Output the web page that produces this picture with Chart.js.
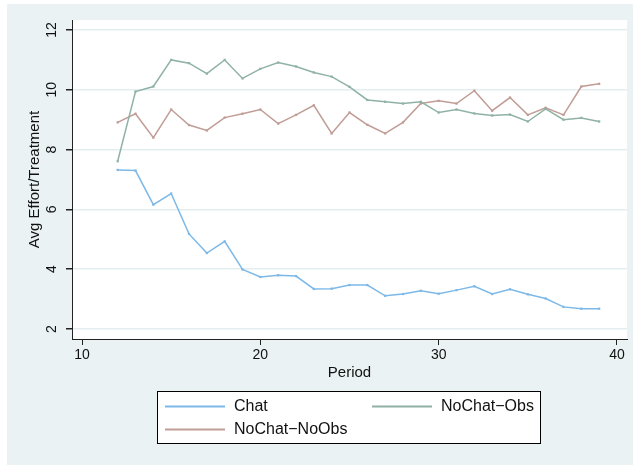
<!DOCTYPE html>
<html>
<head>
<meta charset="utf-8">
<script src="https://cdn.jsdelivr.net/npm/chart.js@4.4.0/dist/chart.umd.min.js"></script>
<style>
  html, body { margin: 0; padding: 0; background: #fff; }
  #wrap { width: 633px; height: 465px; }
</style>
</head>
<body>
<div id="wrap"><canvas id="grafico" width="633" height="465"></canvas></div>
<script>
// datos
const periodos = [12, 13, 14, 15, 16, 17, 18, 19, 20, 21, 22, 23, 24, 25,
                  26, 27, 28, 29, 30, 31, 32, 33, 34, 35, 36, 37, 38, 39];
const chat = [7.32, 7.30, 6.16, 6.53, 5.18, 4.54, 4.93, 3.99, 3.74, 3.80, 3.77, 3.34, 3.35, 3.47,
              3.47, 3.11, 3.17, 3.28, 3.18, 3.30, 3.43, 3.17, 3.33, 3.16, 3.02, 2.74, 2.68, 2.68];
const noChatObs = [7.61, 9.94, 10.11, 11.00, 10.89, 10.54, 11.00, 10.38, 10.70, 10.91, 10.78, 10.58, 10.44, 10.10,
                   9.66, 9.60, 9.54, 9.60, 9.24, 9.34, 9.21, 9.14, 9.17, 8.94, 9.36, 9.00, 9.06, 8.94];
const noChatNoObs = [8.91, 9.20, 8.40, 9.34, 8.82, 8.64, 9.07, 9.20, 9.34, 8.87, 9.16, 9.48, 8.54, 9.24,
                     8.83, 8.54, 8.91, 9.54, 9.63, 9.54, 9.97, 9.30, 9.74, 9.16, 9.40, 9.16, 10.11, 10.20];
const seriesNombres = ['Chat', 'NoChat\u2212Obs', 'NoChat\u2212NoObs'];
const ticksX = [10, 20, 30, 40];
const ticksY = [2, 4, 6, 8, 10, 12];

const FUENTE = '"Liberation Sans", Arial, sans-serif';
const colores = ['#7db9e8', '#8fb2a5', '#c09d96'];

function puntos(valores) {
    return periodos.map((p, i) => ({ x: p, y: valores[i] }));
}

// fondo gris-azulado y area blanca del grafico
const fondoPlugin = {
    id: 'fondo',
    beforeDraw(chart) {
        const ctx = chart.ctx;
        const a = chart.chartArea;
        ctx.save();
        ctx.fillStyle = '#ffffff';
        ctx.fillRect(0, 0, chart.width, chart.height);
        ctx.fillStyle = '#eaf2f3';
        ctx.fillRect(7, 4, chart.width - 7, chart.height - 4);
        ctx.fillStyle = '#ffffff';
        ctx.fillRect(a.left, a.top, a.right - a.left, a.bottom - a.top);
        ctx.restore();
    }
};

// leyenda en caja, dos columnas
const leyendaPlugin = {
    id: 'leyendaCaja',
    afterDraw(chart) {
        const ctx = chart.ctx;
        const caja = { x: 157.5, y: 391.5, w: 383, h: 52 };
        ctx.save();
        ctx.fillStyle = '#ffffff';
        ctx.fillRect(caja.x, caja.y, caja.w, caja.h);
        ctx.strokeStyle = '#000000';
        ctx.lineWidth = 1;
        ctx.strokeRect(caja.x, caja.y, caja.w, caja.h);
        ctx.font = '16px ' + FUENTE;
        ctx.textBaseline = 'middle';
        ctx.textAlign = 'left';
        const columnas = [165, 372];
        const filas = [406.5, 429.5];
        chart.data.datasets.forEach((ds, i) => {
            const cx = columnas[i % 2];
            const cy = filas[Math.floor(i / 2)];
            ctx.strokeStyle = ds.borderColor;
            ctx.lineWidth = 2;
            ctx.beginPath();
            ctx.moveTo(cx, cy);
            ctx.lineTo(cx + 60, cy);
            ctx.stroke();
            ctx.fillStyle = '#111111';
            ctx.fillText(ds.label, cx + 69, cy);
        });
        ctx.restore();
    }
};

const series = [chat, noChatObs, noChatNoObs];

const grafico = new Chart(document.getElementById('grafico').getContext('2d'), {
    type: 'line',
    data: {
        datasets: series.map((valores, i) => ({
            label: seriesNombres[i],
            data: puntos(valores),
            borderColor: colores[i],
            backgroundColor: colores[i],
            borderWidth: 1.5,
            pointStyle: 'rect',
            pointRadius: 1.6,
            pointBorderWidth: 0,
            tension: 0,
            fill: false
        }))
    },
    options: {
        responsive: false,
        animation: false,
        layout: { padding: { left: 0, top: 20, right: 6, bottom: 0 } },
        plugins: {
            legend: { display: false },
            tooltip: { enabled: false }
        },
        scales: {
            x: {
                type: 'linear',
                min: 9.439,
                max: 40.561,
                afterBuildTicks: scale => { scale.ticks = ticksX.map(v => ({ value: v })); },
                afterFit: scale => { scale.height = 126; },
                border: { display: true, color: '#222', width: 1 },
                grid: {
                    drawOnChartArea: false,
                    drawTicks: true,
                    tickLength: 6,
                    tickColor: '#222',
                    lineWidth: 1
                },
                ticks: {
                    color: '#111',
                    font: { family: FUENTE, size: 14 },
                    padding: 2,
                    maxRotation: 0,
                    autoSkip: false
                },
                title: {
                    display: true,
                    text: 'Period',
                    color: '#111',
                    font: { family: FUENTE, size: 15 },
                    padding: { top: 0, bottom: 83 }
                }
            },
            y: {
                type: 'linear',
                min: 1.666,
                max: 12.334,
                afterBuildTicks: scale => { scale.ticks = ticksY.map(v => ({ value: v })); },
                afterFit: scale => { scale.width = 72; },
                border: { display: true, color: '#222', width: 1 },
                grid: {
                    drawOnChartArea: true,
                    drawTicks: true,
                    tickLength: 6,
                    tickColor: '#222',
                    color: '#e4eef0',
                    lineWidth: 1.5
                },
                ticks: {
                    color: '#111',
                    font: { family: FUENTE, size: 14 },
                    padding: 6,
                    minRotation: 90,
                    maxRotation: 90,
                    crossAlign: 'center',
                    autoSkip: false
                },
                title: {
                    display: true,
                    text: 'Avg Effort/Treatment',
                    color: '#111',
                    font: { family: FUENTE, size: 15 },
                    padding: { top: 26, bottom: 0 }
                }
            }
        }
    },
    plugins: [fondoPlugin, leyendaPlugin]
});
</script>
</body>
</html>
